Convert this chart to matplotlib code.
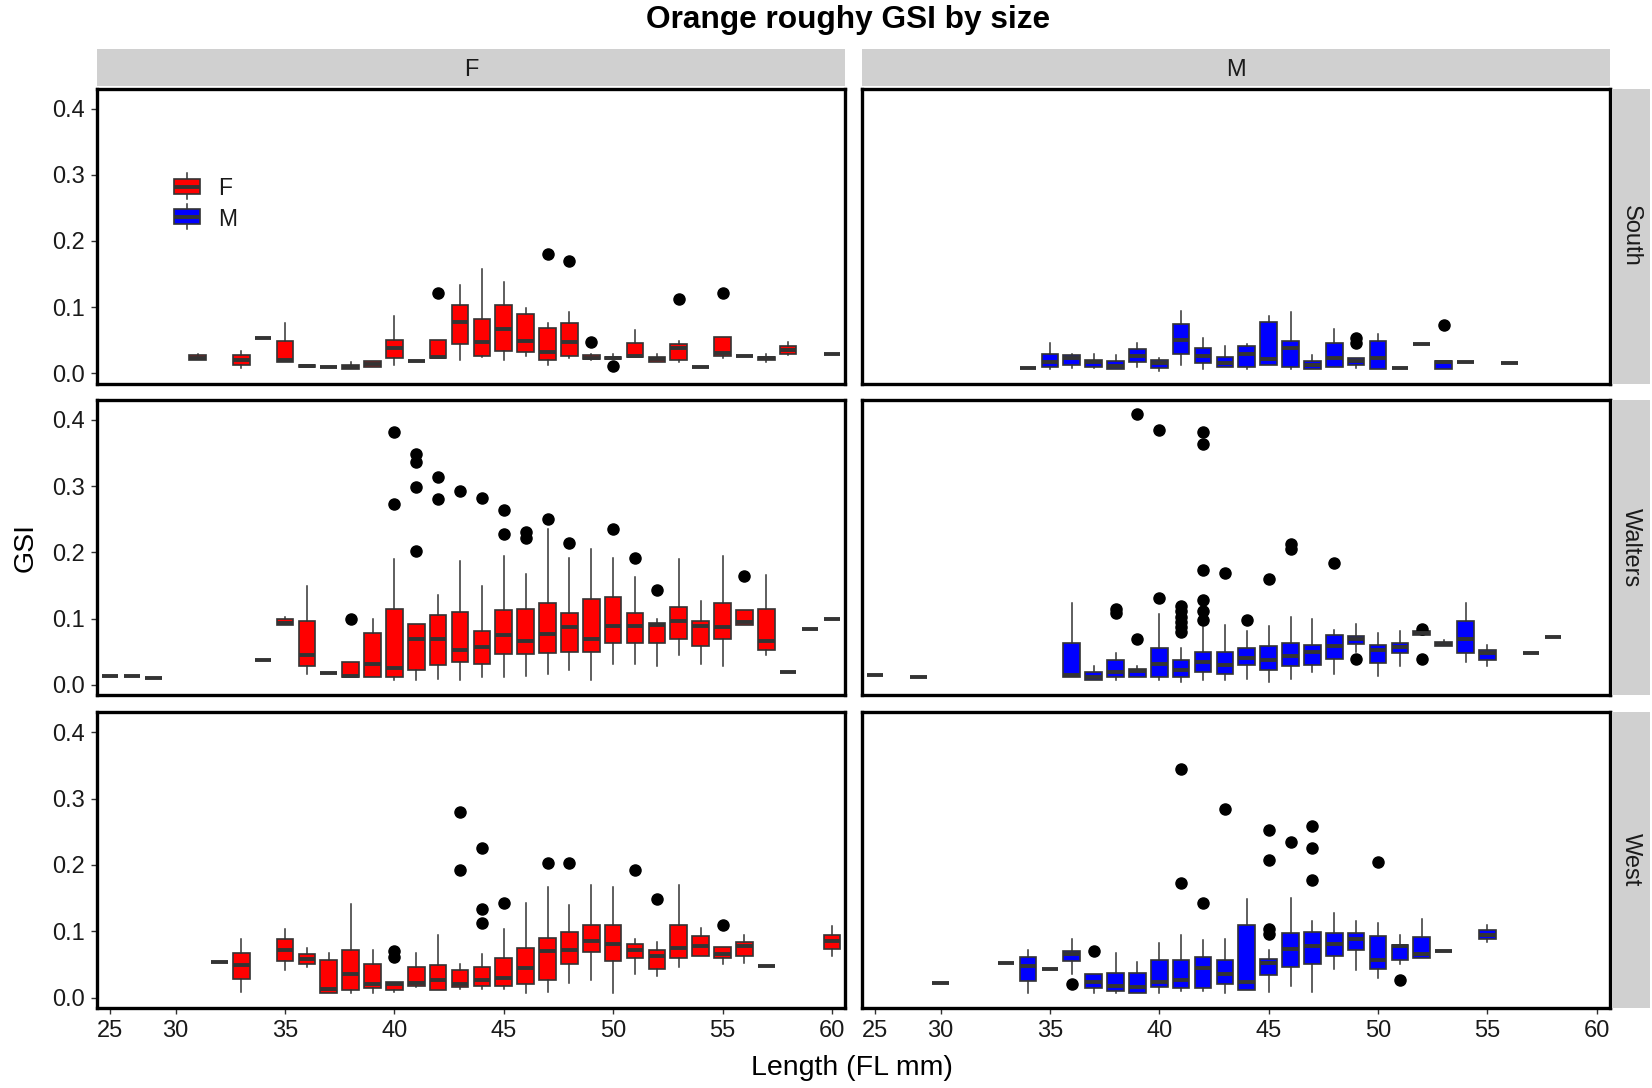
import matplotlib
matplotlib.use("Agg")
import matplotlib.pyplot as plt
from matplotlib.patches import Rectangle
from matplotlib.lines import Line2D

plt.rcParams['font.family'] = ['Liberation Sans', 'DejaVu Sans']

# ---- data -------------------------------------------------------------
# discrete length classes on the x axis (one slot per class present)
LENGTH_LEVELS = [25, 26, 28] + list(range(30, 61))
TICK_LENGTHS = [25, 30, 35, 40, 45, 50, 55, 60]
SEXES = ["F", "M"]
AREAS = ["South", "Walters", "West"]
FILL = {"F": "#FF0000", "M": "#0000FF"}

# box summaries per length: (lower whisker, q1, median, q3, upper whisker)
# a single number stands for a group whose values all coincide
F_SOUTH_LEN = [31, 33, 34, 35, 36, 37, 38, 39, 40, 41, 42, 43, 44, 45, 46, 47,
               48, 49, 50, 51, 52, 53, 54, 55, 56, 57, 58, 60]
F_SOUTH_BOX = [(0.020, 0.020, 0.024, 0.028, 0.030), (0.008, 0.013, 0.020, 0.028, 0.034),
               0.054, (0.018, 0.018, 0.020, 0.049, 0.076), (0.009, 0.009, 0.011, 0.013, 0.013),
               0.010, (0.006, 0.006, 0.009, 0.012, 0.017), (0.010, 0.010, 0.014, 0.019, 0.019),
               (0.013, 0.024, 0.039, 0.050, 0.086), 0.019, (0.023, 0.023, 0.025, 0.050, 0.050),
               (0.020, 0.045, 0.077, 0.103, 0.133), (0.025, 0.027, 0.047, 0.082, 0.157),
               (0.020, 0.034, 0.067, 0.103, 0.138), (0.027, 0.032, 0.049, 0.089, 0.099),
               (0.013, 0.020, 0.033, 0.068, 0.076), (0.024, 0.027, 0.047, 0.076, 0.092),
               (0.021, 0.022, 0.024, 0.028, 0.030), (0.022, 0.022, 0.023, 0.025, 0.030),
               (0.025, 0.025, 0.027, 0.046, 0.066), (0.018, 0.018, 0.022, 0.025, 0.030),
               (0.018, 0.020, 0.038, 0.044, 0.049), 0.010, (0.023, 0.027, 0.031, 0.055, 0.055),
               0.027, (0.018, 0.020, 0.023, 0.025, 0.030), (0.028, 0.030, 0.035, 0.042, 0.048),
               0.029]
F_SOUTH_OUT = {42: [0.122], 47: [0.181], 48: [0.170], 49: [0.048], 50: [0.011],
               53: [0.113], 55: [0.122]}

M_SOUTH_LEN = [34, 35, 36, 37, 38, 39, 40, 41, 42, 43, 44, 45, 46, 47, 48, 49,
               50, 51, 52, 53, 54, 56]
M_SOUTH_BOX = [0.008, (0.006, 0.010, 0.018, 0.030, 0.046), (0.008, 0.013, 0.024, 0.028, 0.030),
               (0.008, 0.010, 0.018, 0.021, 0.030), (0.006, 0.006, 0.011, 0.019, 0.028),
               (0.010, 0.018, 0.027, 0.037, 0.046), (0.004, 0.008, 0.015, 0.021, 0.023),
               (0.013, 0.029, 0.051, 0.074, 0.095), (0.006, 0.015, 0.027, 0.039, 0.053),
               (0.009, 0.010, 0.015, 0.025, 0.042), (0.006, 0.010, 0.029, 0.042, 0.044),
               (0.013, 0.013, 0.022, 0.078, 0.086), (0.006, 0.010, 0.038, 0.049, 0.092),
               (0.006, 0.006, 0.013, 0.019, 0.028), (0.010, 0.010, 0.024, 0.046, 0.067),
               (0.008, 0.013, 0.019, 0.024, 0.024), (0.006, 0.006, 0.024, 0.049, 0.060),
               0.008, 0.045, (0.006, 0.006, 0.017, 0.019, 0.019), 0.017, 0.015]
M_SOUTH_OUT = {49: [0.053, 0.046], 53: [0.073]}

F_WALTERS_LEN = [25, 26, 28, 34, 35, 36, 37, 38, 39, 40, 41, 42, 43, 44, 45, 46,
                 47, 48, 49, 50, 51, 52, 53, 54, 55, 56, 57, 58, 59, 60]
F_WALTERS_BOX = [0.013, 0.013, 0.011, 0.038, (0.091, 0.091, 0.094, 0.099, 0.102),
                 (0.017, 0.028, 0.045, 0.096, 0.149), 0.018, (0.012, 0.012, 0.014, 0.035, 0.035),
                 (0.012, 0.012, 0.032, 0.078, 0.099), (0.007, 0.012, 0.025, 0.115, 0.190),
                 (0.007, 0.023, 0.070, 0.092, 0.092), (0.009, 0.030, 0.070, 0.106, 0.136),
                 (0.007, 0.034, 0.052, 0.110, 0.187), (0.012, 0.032, 0.057, 0.081, 0.149),
                 (0.012, 0.046, 0.075, 0.113, 0.194), (0.014, 0.046, 0.066, 0.115, 0.168),
                 (0.017, 0.048, 0.077, 0.124, 0.235), (0.023, 0.050, 0.087, 0.108, 0.191),
                 (0.007, 0.050, 0.070, 0.129, 0.205), (0.032, 0.064, 0.089, 0.133, 0.191),
                 (0.032, 0.064, 0.089, 0.108, 0.163), (0.029, 0.064, 0.091, 0.094, 0.099),
                 (0.045, 0.069, 0.096, 0.118, 0.190), (0.032, 0.058, 0.089, 0.097, 0.127),
                 (0.028, 0.069, 0.087, 0.124, 0.194), (0.091, 0.091, 0.095, 0.113, 0.113),
                 (0.045, 0.053, 0.066, 0.115, 0.166), 0.020, 0.084, 0.099]
F_WALTERS_OUT = {38: [0.099], 40: [0.381, 0.273], 41: [0.349, 0.336, 0.298, 0.202],
                 42: [0.314, 0.280], 43: [0.293], 44: [0.282], 45: [0.264, 0.228],
                 46: [0.230, 0.222], 47: [0.250], 48: [0.214], 50: [0.236], 51: [0.191],
                 52: [0.143], 56: [0.165]}

M_WALTERS_LEN = [25, 28, 36, 37, 38, 39, 40, 41, 42, 43, 44, 45, 46, 47, 48, 49,
                 50, 51, 52, 53, 54, 55, 57, 58]
M_WALTERS_BOX = [0.015, 0.0125, (0.012, 0.012, 0.015, 0.063, 0.124),
                 (0.007, 0.007, 0.012, 0.019, 0.028), (0.007, 0.012, 0.020, 0.038, 0.048),
                 (0.012, 0.012, 0.021, 0.024, 0.028), (0.007, 0.012, 0.032, 0.056, 0.107),
                 (0.005, 0.012, 0.023, 0.038, 0.056), (0.007, 0.019, 0.034, 0.049, 0.087),
                 (0.007, 0.017, 0.030, 0.049, 0.090), (0.009, 0.030, 0.041, 0.056, 0.082),
                 (0.005, 0.023, 0.037, 0.058, 0.089), (0.009, 0.028, 0.043, 0.063, 0.102),
                 (0.019, 0.030, 0.050, 0.060, 0.099), (0.017, 0.039, 0.059, 0.076, 0.083),
                 (0.049, 0.062, 0.069, 0.074, 0.092), (0.014, 0.033, 0.053, 0.060, 0.079),
                 (0.029, 0.048, 0.057, 0.064, 0.082), (0.076, 0.076, 0.078, 0.081, 0.081),
                 (0.058, 0.058, 0.061, 0.065, 0.068), (0.034, 0.048, 0.070, 0.097, 0.123),
                 (0.028, 0.037, 0.048, 0.053, 0.060), 0.048, 0.072]
M_WALTERS_OUT = {38: [0.114, 0.109], 39: [0.409, 0.069], 40: [0.385, 0.131],
                 41: [0.119, 0.111, 0.103, 0.095, 0.087, 0.080],
                 42: [0.382, 0.364, 0.174, 0.128, 0.111, 0.098], 43: [0.169],
                 44: [0.098], 45: [0.160], 46: [0.212, 0.205], 48: [0.184],
                 49: [0.039], 52: [0.084, 0.039]}

F_WEST_LEN = [32, 33, 35, 36, 37, 38, 39, 40, 41, 42, 43, 44, 45, 46, 47, 48,
              49, 50, 51, 52, 53, 54, 55, 56, 57, 60]
F_WEST_BOX = [0.053, (0.009, 0.028, 0.049, 0.067, 0.089), (0.041, 0.055, 0.072, 0.089, 0.104),
              (0.046, 0.051, 0.058, 0.065, 0.074), (0.007, 0.007, 0.013, 0.056, 0.067),
              (0.007, 0.011, 0.035, 0.071, 0.141), (0.007, 0.014, 0.021, 0.051, 0.072),
              (0.009, 0.011, 0.021, 0.023, 0.023), (0.016, 0.018, 0.022, 0.046, 0.067),
              (0.011, 0.011, 0.026, 0.049, 0.095), (0.013, 0.016, 0.021, 0.042, 0.050),
              (0.013, 0.018, 0.026, 0.046, 0.066), (0.013, 0.018, 0.030, 0.060, 0.103),
              (0.007, 0.021, 0.045, 0.074, 0.143), (0.009, 0.027, 0.070, 0.090, 0.166),
              (0.022, 0.051, 0.071, 0.099, 0.139), (0.027, 0.068, 0.085, 0.109, 0.169),
              (0.007, 0.055, 0.080, 0.109, 0.166), (0.035, 0.060, 0.071, 0.081, 0.089),
              (0.032, 0.043, 0.062, 0.071, 0.084), (0.046, 0.060, 0.075, 0.109, 0.170),
              (0.062, 0.062, 0.078, 0.093, 0.105), (0.051, 0.059, 0.065, 0.076, 0.076),
              (0.052, 0.062, 0.078, 0.084, 0.095), 0.047, (0.063, 0.073, 0.085, 0.095, 0.108)]
F_WEST_OUT = {40: [0.070, 0.061], 43: [0.280, 0.193], 44: [0.225, 0.134, 0.113],
              45: [0.143], 47: [0.203], 48: [0.203], 51: [0.193], 52: [0.148], 55: [0.109]}

M_WEST_LEN = [30, 33, 34, 35, 36, 37, 38, 39, 40, 41, 42, 43, 44, 45, 46, 47,
              48, 49, 50, 51, 52, 53, 55]
M_WEST_BOX = [0.022, 0.052, (0.007, 0.025, 0.048, 0.061, 0.072), 0.043,
              (0.036, 0.055, 0.065, 0.070, 0.089), (0.007, 0.014, 0.024, 0.036, 0.036),
              (0.007, 0.010, 0.018, 0.037, 0.067), (0.007, 0.007, 0.016, 0.037, 0.053),
              (0.007, 0.016, 0.023, 0.056, 0.082), (0.010, 0.014, 0.027, 0.056, 0.094),
              (0.010, 0.014, 0.045, 0.061, 0.087), (0.007, 0.021, 0.035, 0.056, 0.089),
              (0.011, 0.011, 0.024, 0.109, 0.149), (0.009, 0.034, 0.052, 0.058, 0.072),
              (0.018, 0.046, 0.073, 0.098, 0.150), (0.009, 0.051, 0.078, 0.099, 0.116),
              (0.043, 0.062, 0.080, 0.098, 0.128), (0.041, 0.071, 0.088, 0.098, 0.116),
              (0.030, 0.043, 0.056, 0.093, 0.112), (0.050, 0.057, 0.078, 0.079, 0.094),
              (0.060, 0.060, 0.065, 0.091, 0.119), 0.070, (0.083, 0.088, 0.095, 0.102, 0.109)]
M_WEST_OUT = {36: [0.021], 37: [0.070], 41: [0.344, 0.172], 42: [0.143], 43: [0.284],
              45: [0.253, 0.207, 0.103, 0.096], 46: [0.234], 47: [0.258, 0.225, 0.178],
              50: [0.205], 51: [0.026]}

PANELS = {
    ("South", "F"): (F_SOUTH_LEN, F_SOUTH_BOX, F_SOUTH_OUT),
    ("South", "M"): (M_SOUTH_LEN, M_SOUTH_BOX, M_SOUTH_OUT),
    ("Walters", "F"): (F_WALTERS_LEN, F_WALTERS_BOX, F_WALTERS_OUT),
    ("Walters", "M"): (M_WALTERS_LEN, M_WALTERS_BOX, M_WALTERS_OUT),
    ("West", "F"): (F_WEST_LEN, F_WEST_BOX, F_WEST_OUT),
    ("West", "M"): (M_WEST_LEN, M_WEST_BOX, M_WEST_OUT),
}

# ---- figure layout (pixels of a 1652 x 1088 canvas) --------------------
W, H = 1652, 1088
fig = plt.figure(figsize=(W / 100, H / 100), dpi=100)
fig.patch.set_facecolor("white")

COL_X = {"F": (96.9, 845.0), "M": (861.8, 1609.9)}
ROW_Y = {"South": (88.5, 383.5), "Walters": (399.8, 695.0), "West": (712.3, 1007.6)}
STRIP_TOP = (48.5, 86.4)
STRIP_RIGHT = (1612.0, 1650.0)
STRIP_FILL = "#D0D0D0"
TEXT_DARK = "#1A1A1A"
EDGE = "#333333"


def fig_rect(x0, x1, y0, y1):
    return [x0 / W, 1 - y1 / H, (x1 - x0) / W, (y1 - y0) / H]


def summary(entry, fliers):
    if isinstance(entry, (int, float)):
        entry = (entry,) * 5
    lo, q1, med, q3, hi = entry
    return dict(whislo=lo, q1=q1, med=med, q3=q3, whishi=hi, fliers=fliers)


axes = {}
for area in AREAS:
    for sex in SEXES:
        x0, x1 = COL_X[sex]
        y0, y1 = ROW_Y[area]
        ax = fig.add_axes(fig_rect(x0, x1, y0, y1))
        axes[(area, sex)] = ax
        lens, boxes, outs = PANELS[(area, sex)]
        stats = [summary(b, outs.get(L, [])) for L, b in zip(lens, boxes)]
        pos = [LENGTH_LEVELS.index(L) for L in lens]
        ax.bxp(stats, positions=pos, widths=0.76, patch_artist=True,
               showcaps=False, manage_ticks=False,
               boxprops=dict(facecolor=FILL[sex], edgecolor=EDGE, linewidth=1.2),
               medianprops=dict(color=EDGE, linewidth=2.8, solid_capstyle="butt"),
               whiskerprops=dict(color=EDGE, linewidth=1.1),
               flierprops=dict(marker="o", markerfacecolor="black",
                               markeredgecolor="black", markersize=8))
        ax.set_xlim(-0.6, len(LENGTH_LEVELS) - 1 + 0.6)
        ax.set_ylim(-0.0152, 0.4302)
        ax.set_facecolor("white")
        for sp in ax.spines.values():
            sp.set_color("black")
            sp.set_linewidth(2.4)
        ax.set_yticks([0.0, 0.1, 0.2, 0.3, 0.4])
        ax.set_xticks([LENGTH_LEVELS.index(t) for t in TICK_LENGTHS])
        ax.tick_params(axis="both", length=4, width=1.0, color=EDGE,
                       labelsize=17, labelcolor=TEXT_DARK)
        ax.tick_params(axis="y", pad=5)
        ax.tick_params(axis="x", pad=5)
        if sex == "F":
            ax.set_yticklabels(["0.0", "0.1", "0.2", "0.3", "0.4"])
        else:
            ax.tick_params(axis="y", length=0, labelleft=False)
        if area == "West":
            ax.set_xticklabels([str(t) for t in TICK_LENGTHS])
        else:
            ax.tick_params(axis="x", length=0, labelbottom=False)

# facet strips
for sex in SEXES:
    x0, x1 = COL_X[sex]
    sax = fig.add_axes(fig_rect(x0, x1, *STRIP_TOP))
    sax.set_facecolor(STRIP_FILL)
    sax.set_xticks([]); sax.set_yticks([])
    for sp in sax.spines.values():
        sp.set_visible(False)
    sax.text(0.5, 0.42, sex, ha="center", va="center", fontsize=17,
             color=TEXT_DARK, transform=sax.transAxes)

for area in AREAS:
    y0, y1 = ROW_Y[area]
    sax = fig.add_axes(fig_rect(*STRIP_RIGHT, y0, y1))
    sax.set_facecolor(STRIP_FILL)
    sax.set_xticks([]); sax.set_yticks([])
    for sp in sax.spines.values():
        sp.set_visible(False)
    sax.text(0.5, 0.5, area, ha="center", va="center", fontsize=17,
             rotation=-90, color=TEXT_DARK, transform=sax.transAxes)

# legend drawn as mini boxplot keys inside the first panel
lax = axes[("South", "F")]
KEYS = [("F", 0.7125, 0.6932, 0.6671, 0.6414, 0.6254, 0.662),
        ("M", 0.6085, 0.5915, 0.5654, 0.5397, 0.5237, 0.556)]
kx0, kx1 = 0.1028, 0.1381
kxc = (kx0 + kx1) / 2
for sex, wtop, btop, bmed, bbot, wbot, ty in KEYS:
    lax.add_line(Line2D([kxc, kxc], [wbot, wtop], color=EDGE, lw=1.1,
                        transform=lax.transAxes))
    lax.add_patch(Rectangle((kx0, bbot), kx1 - kx0, btop - bbot,
                            facecolor=FILL[sex], edgecolor=EDGE, lw=1.2,
                            transform=lax.transAxes, zorder=3))
    lax.add_line(Line2D([kx0, kx1], [bmed, bmed], color=EDGE, lw=2.8,
                        solid_capstyle="butt", transform=lax.transAxes, zorder=4))
    lax.text(0.1619, ty, sex, ha="left", va="center", fontsize=16.5,
             color=TEXT_DARK, transform=lax.transAxes)

# titles and axis labels
fig.text(848 / W, 1 - 20 / H, "Orange roughy GSI by size", ha="center",
         va="center", fontsize=22.8, fontweight="bold", color="black")
fig.text(852 / W, 1 - 1068 / H, "Length (FL mm)", ha="center", va="center",
         fontsize=20.5, color="black")
fig.text(26 / W, 1 - 548 / H, "GSI", ha="center", va="center", rotation=90,
         fontsize=20.5, color="black")

fig.savefig("out.png", dpi=100, facecolor="white")
